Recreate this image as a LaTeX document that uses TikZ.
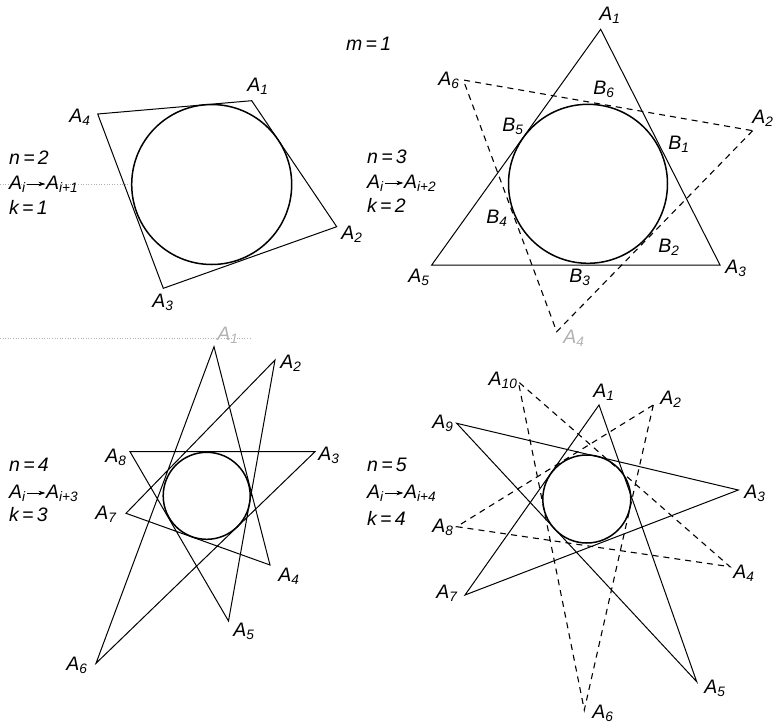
\documentclass[tikz,border=0pt]{standalone}
\usepackage{fontspec}
\setmainfont{Liberation Sans}
\usetikzlibrary{arrows.meta}
\newcommand{\Asub}[1]{A\textsubscript{#1}}
\newcommand{\Bsub}[1]{B\textsubscript{#1}}
\begin{document}
\begin{tikzpicture}[x=1pt,y=-1pt,
  poly/.style={line width=1pt, line join=miter},
  dpoly/.style={line width=1.1pt, dash pattern=on 6pt off 5pt},
  incirc/.style={line width=1.5pt},
  lab/.style={font=\fontsize{19.5}{19.5}\selectfont\itshape, inner sep=0pt},
  txt/.style={font=\fontsize{19.5}{22}\selectfont\itshape, inner sep=0pt, anchor=west},
  maparrow/.style={line width=0.7pt, -{Stealth[length=7pt,width=4.5pt]}, shorten <=1pt, shorten >=0.5pt},
  faint/.style={text=black!30},
  scan/.style={black!30, dotted, line width=0.6pt}]
\useasboundingbox (0,0) rectangle (774,726);

% faint scan lines
\coordinate (s1a) at (0,184);  \coordinate (s1b) at (128,184);
\coordinate (s2a) at (0,338);  \coordinate (s2b) at (250,338);
\draw[scan] (s1a) -- (s1b);
\draw[scan] (s2a) -- (s2b);

% ---------- Q1: n=2 ----------
\coordinate (pa1) at (251.7,100.7);
\coordinate (pa2) at (336.7,226.7);
\coordinate (pa3) at (163.3,288.3);
\coordinate (pa4) at (97.7,114);
\coordinate (pc) at (211.7,184.5);
\draw[poly] (pa1) -- (pa2) -- (pa3) -- (pa4) -- cycle;
\draw[incirc] (pc) circle[radius=80pt];
\node[lab] (la1) at (258,86) {\Asub{1}};
\node[lab] (la2) at (352,234) {\Asub{2}};
\node[lab] (la3) at (163,302) {\Asub{3}};
\node[lab] (la4) at (80,117) {\Asub{4}};
\node[txt] (t1a) at (9,158) {n\,=\,2};
\node[txt] (t1bl) at (9,184) {A\textsubscript{i}};
\node[txt] (t1br) at ([xshift=20pt]t1bl.east) {A\textsubscript{i+1}};
\draw[maparrow] (t1bl) -- (t1br);
\node[txt] (t1c) at (9,207) {k\,=\,1};

\node[txt] (tm) at (346,44) {m\,=\,1};

% ---------- Q2: n=3 ----------
\coordinate (qa1) at (600.7,29.3);
\coordinate (qa3) at (720,265);
\coordinate (qa5) at (431.7,265);
\coordinate (qa2) at (752.7,130.7);
\coordinate (qa4) at (556.7,331.7);
\coordinate (qa6) at (463.3,80);
\coordinate (qc) at (588,183.8);
\draw[poly] (qa1) -- (qa3) -- (qa5) -- cycle;
\draw[dpoly] (qa2) -- (qa4) -- (qa6) -- cycle;
\draw[incirc] (qc) circle[radius=79.5pt];
\node[lab] (lb1) at (610,15) {\Asub{1}};
\node[lab] (lb2) at (763,118) {\Asub{2}};
\node[lab] (lb3) at (736,268) {\Asub{3}};
\node[lab,faint] (lb4) at (574,338) {\Asub{4}};
\node[lab] (lb5) at (419,277) {\Asub{5}};
\node[lab] (lb6) at (449,80) {\Asub{6}};
\node[lab] (lbb1) at (679,144) {\Bsub{1}};
\node[lab] (lbb2) at (669,247) {\Bsub{2}};
\node[lab] (lbb3) at (580,277) {\Bsub{3}};
\node[lab] (lbb4) at (497,218) {\Bsub{4}};
\node[lab] (lbb5) at (513,126) {\Bsub{5}};
\node[lab] (lbb6) at (604,89) {\Bsub{6}};
\node[txt] (t2a) at (367,157) {n\,=\,3};
\node[txt] (t2bl) at (367,183) {A\textsubscript{i}};
\node[txt] (t2br) at ([xshift=20pt]t2bl.east) {A\textsubscript{i+2}};
\draw[maparrow] (t2bl) -- (t2br);
\node[txt] (t2c) at (367,205) {k\,=\,2};

% ---------- Q3: n=4 ----------
\coordinate (ra1) at (214,346.7);
\coordinate (ra2) at (275,360);
\coordinate (ra3) at (315,451.7);
\coordinate (ra4) at (270,565);
\coordinate (ra5) at (228.5,621);
\coordinate (ra6) at (96,663.3);
\coordinate (ra7) at (126,513.3);
\coordinate (ra8) at (130,451.7);
\coordinate (rc) at (206.7,495.8);
\draw[poly] (ra1) -- (ra4) -- (ra7) -- (ra2) -- (ra5) -- (ra8) -- (ra3) -- (ra6) -- cycle;
\draw[incirc] (rc) circle[radius=43.5pt];
\node[lab,faint] (lr1) at (228,335) {\Asub{1}};
\node[lab] (lr2) at (291,363) {\Asub{2}};
\node[lab] (lr3) at (329,455) {\Asub{3}};
\node[lab] (lr4) at (289,576) {\Asub{4}};
\node[lab] (lr5) at (244,631) {\Asub{5}};
\node[lab] (lr6) at (77,665) {\Asub{6}};
\node[lab] (lr7) at (106,514) {\Asub{7}};
\node[lab] (lr8) at (116,457) {\Asub{8}};
\node[txt] (t3a) at (9,465) {n\,=\,4};
\node[txt] (t3bl) at (9,493) {A\textsubscript{i}};
\node[txt] (t3br) at ([xshift=20pt]t3bl.east) {A\textsubscript{i+3}};
\draw[maparrow] (t3bl) -- (t3br);
\node[txt] (t3c) at (9,515) {k\,=\,3};

% ---------- Q4: n=5 ----------
\coordinate (ua1) at (599,405);
\coordinate (ua2) at (653.3,405);
\coordinate (ua3) at (738.3,490);
\coordinate (ua4) at (730,566.7);
\coordinate (ua5) at (696.7,681.7);
\coordinate (ua6) at (584.3,710);
\coordinate (ua7) at (465,595);
\coordinate (ua8) at (456.7,526.7);
\coordinate (ua9) at (456.7,423.3);
\coordinate (ua10) at (518.3,381.7);
\coordinate (uc) at (586.8,499);
\draw[poly] (ua1) -- (ua5) -- (ua9) -- (ua3) -- (ua7) -- cycle;
\draw[dpoly] (ua2) -- (ua6) -- (ua10) -- (ua4) -- (ua8) -- cycle;
\draw[incirc] (uc) circle[radius=44pt];
\node[lab] (lu1) at (604,392) {\Asub{1}};
\node[lab] (lu2) at (671,399) {\Asub{2}};
\node[lab] (lu3) at (755,493) {\Asub{3}};
\node[lab] (lu4) at (744,573) {\Asub{4}};
\node[lab] (lu5) at (715,688) {\Asub{5}};
\node[lab] (lu6) at (603,713) {\Asub{6}};
\node[lab] (lu7) at (447,593) {\Asub{7}};
\node[lab] (lu8) at (443,527) {\Asub{8}};
\node[lab] (lu9) at (443,423) {\Asub{9}};
\node[lab] (lu10) at (503,380) {\Asub{10}};
\node[txt] (t4a) at (367,465) {n\,=\,5};
\node[txt] (t4bl) at (367,493) {A\textsubscript{i}};
\node[txt] (t4br) at ([xshift=20pt]t4bl.east) {A\textsubscript{i+4}};
\draw[maparrow] (t4bl) -- (t4br);
\node[txt] (t4c) at (367,518) {k\,=\,4};
\end{tikzpicture}
\end{document}
